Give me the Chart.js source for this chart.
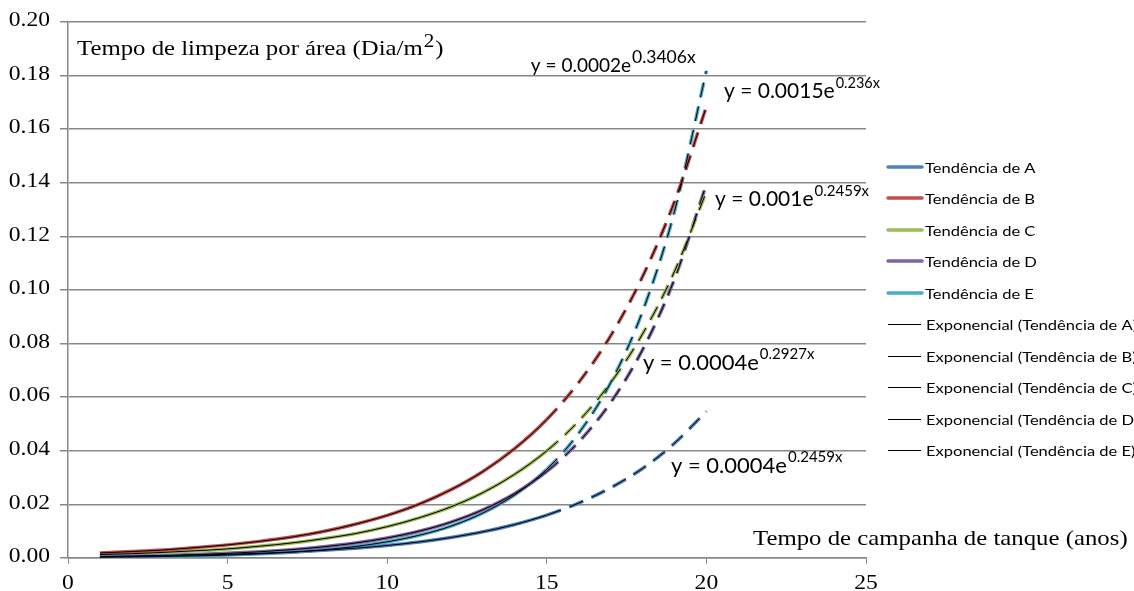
<!DOCTYPE html>
<html lang="pt">
<head>
  <meta charset="UTF-8">
  <title>Tempo de limpeza por área</title>
  <script src="https://cdn.jsdelivr.net/npm/chart.js"></script>
  <style>
    html, body { margin: 0; padding: 0; background: #fff; }
    #wrap { width: 1134px; height: 591px; }
  </style>
</head>
<body>
  <div id="wrap"><canvas id="grafico" width="1134" height="591"></canvas></div>

  <script>
    // dados (anos 1..20; a partir de 15 é previsão)
    const anos = [1, 2, 3, 4, 5, 6, 7, 8, 9, 10, 11, 12, 13, 14, 15, 16, 17, 18, 19, 20];
    const tendA = [0.0005, 0.00065, 0.00084, 0.00107, 0.00137, 0.00175, 0.00224, 0.00286, 0.00366, 0.00468, 0.00598, 0.00765, 0.00978, 0.0125, 0.016, 0.0205, 0.0262, 0.0334, 0.0428, 0.0547];
    const tendB = [0.0019, 0.0024, 0.003, 0.0039, 0.0049, 0.0062, 0.0078, 0.0099, 0.0126, 0.0159, 0.0201, 0.0255, 0.0323, 0.0409, 0.0517, 0.0655, 0.0829, 0.105, 0.133, 0.1684];
    const tendC = [0.0013, 0.0016, 0.0021, 0.0027, 0.0034, 0.0044, 0.0056, 0.0072, 0.0091, 0.0117, 0.015, 0.0191, 0.0244, 0.0313, 0.04, 0.0511, 0.0654, 0.0836, 0.1069, 0.1367];
    const tendD = [0.00054, 0.00072, 0.00096, 0.00129, 0.00173, 0.00231, 0.0031, 0.00416, 0.00557, 0.00747, 0.01, 0.0134, 0.018, 0.0241, 0.0323, 0.0433, 0.058, 0.0777, 0.1041, 0.1395];
    const tendE = [0.00028, 0.0004, 0.00056, 0.00078, 0.0011, 0.00154, 0.00217, 0.00305, 0.00429, 0.00603, 0.00848, 0.0119, 0.0168, 0.0236, 0.0331, 0.0466, 0.0654, 0.092, 0.1293, 0.1818];

    const nomes = ['Tendência de A', 'Tendência de B', 'Tendência de C', 'Tendência de D', 'Tendência de E'];
    const series = [tendA, tendB, tendC, tendD, tendE];
    const cores = ['#4F81BD', '#C0504D', '#9BBB59', '#8064A2', '#4BACC6'];

    // equações das linhas de tendência exponencial
    const eqBase = ['y = 0.0004e', 'y = 0.0015e', 'y = 0.001e', 'y = 0.0004e', 'y = 0.0002e'];
    const eqExpoente = ['0.2459x', '0.236x', '0.2459x', '0.2927x', '0.3406x'];

    const tituloY = 'Tempo de limpeza por área (Dia/m';
    const tituloX = 'Tempo de campanha de tanque (anos)';

    const inicioPrevisao = 15;
    const tracejado = ctx => ctx.p0.parsed.x >= inicioPrevisao ? [15, 9] : undefined;

    const pontos = vals => anos.map((a, i) => ({ x: a, y: vals[i] }));

    const datasets = [];
    series.forEach((vals, i) => {
      datasets.push({
        label: nomes[i],
        data: pontos(vals),
        borderColor: cores[i],
        backgroundColor: cores[i],
        borderWidth: 3.5,
        pointRadius: 0,
        order: 1,
        cubicInterpolationMode: 'monotone',
        segment: { borderDash: tracejado }
      });
    });
    series.forEach((vals, i) => {
      datasets.push({
        label: 'Exponencial (' + nomes[i] + ')',
        data: pontos(vals),
        borderColor: '#000',
        backgroundColor: '#000',
        borderWidth: 1,
        pointRadius: 0,
        order: 0,
        cubicInterpolationMode: 'monotone',
        segment: { borderDash: tracejado }
      });
    });

    const serif = '"Liberation Serif", "Times New Roman", serif';
    const sans = 'Lato, "Open Sans", sans-serif';
    const esticar = 1.18; // o texto do original está esticado na horizontal

    // posição das equações em coordenadas do gráfico (x, y da linha de base) e tamanho
    const eqLayout = [
      { x: 18.89, y: 0.0317, size: 22, sup: 15 },
      { x: 20.55, y: 0.1716, size: 21, sup: 14.5 },
      { x: 20.27, y: 0.1312, size: 21, sup: 15 },
      { x: 18.01, y: 0.0701, size: 22, sup: 15 },
      { x: 14.5,  y: 0.1813, size: 19, sup: 17.5 }
    ];

    function texto(ctx, txt, x, y, align) {
      ctx.save();
      ctx.translate(x, y);
      ctx.scale(esticar, 1);
      ctx.textAlign = align || 'left';
      ctx.fillText(txt, 0, 0);
      ctx.restore();
      return ctx.measureText(txt).width * esticar;
    }

    const extras = {
      id: 'extras',
      afterDraw(chart) {
        const { ctx, chartArea } = chart;
        const sx = chart.scales.x, sy = chart.scales.y;
        ctx.save();
        ctx.fillStyle = '#000';
        ctx.textBaseline = 'alphabetic';
        ctx.textAlign = 'left';

        // rótulos dos eixos (desenhados aqui para poder esticar o texto)
        ctx.font = '20px ' + serif;
        ctx.textBaseline = 'middle';
        sy.ticks.forEach((t, i) => {
          texto(ctx, t.value.toFixed(2), chartArea.left - 18, sy.getPixelForTick(i) - 1, 'right');
        });
        ctx.textBaseline = 'alphabetic';
        sx.ticks.forEach((t, i) => {
          texto(ctx, String(t.value), sx.getPixelForTick(i), 589, 'center');
        });

        // equações
        eqLayout.forEach((p, i) => {
          const px = sx.getPixelForValue(p.x);
          const py = sy.getPixelForValue(p.y);
          ctx.font = p.size + 'px ' + sans;
          ctx.fillText(eqBase[i], px, py);
          const w = ctx.measureText(eqBase[i]).width;
          ctx.font = p.sup + 'px ' + sans;
          ctx.fillText(eqExpoente[i], px + w + 1, py - p.size * 0.5);
        });

        // títulos dos eixos
        ctx.font = '21px ' + serif;
        const tx = chartArea.left + 9, ty = chartArea.top + 33;
        const w1 = texto(ctx, tituloY, tx, ty);
        ctx.font = '18px ' + serif;
        const w2 = texto(ctx, '2', tx + w1 + 1, ty - 8);
        ctx.font = '21px ' + serif;
        texto(ctx, ')', tx + w1 + w2 + 2, ty);
        texto(ctx, tituloX, 753, 545);

        // legenda
        ctx.font = '14px ' + sans;
        ctx.textBaseline = 'middle';
        chart.data.datasets.forEach((ds, i) => {
          const y = Math.round(167 + i * 31.45);
          const colorida = i < 5;
          ctx.strokeStyle = ds.borderColor;
          ctx.lineWidth = colorida ? 3.5 : 1;
          ctx.lineCap = colorida ? 'round' : 'butt';
          ctx.beginPath();
          ctx.moveTo(888, y + (colorida ? 0 : 0.5));
          ctx.lineTo(colorida ? 922 : 921, y + (colorida ? 0 : 0.5));
          ctx.stroke();
          ctx.fillStyle = '#000';
          texto(ctx, ds.label, colorida ? 925 : 926, y + 1);
        });
        ctx.restore();
      }
    };

    const grade = '#878787';

    new Chart(document.getElementById('grafico'), {
      type: 'line',
      data: { datasets: datasets },
      options: {
        responsive: false,
        animation: false,
        layout: { padding: { top: 22, right: 268, left: 0, bottom: 0 } },
        plugins: { legend: { display: false }, tooltip: { enabled: false } },
        scales: {
          x: {
            type: 'linear',
            min: 0,
            max: 25,
            ticks: { stepSize: 5, color: 'transparent', font: { family: serif, size: 20 }, padding: 2 },
            grid: { drawOnChartArea: false, drawTicks: true, tickLength: 6, color: grade },
            border: { color: grade, width: 1.5 },
            afterFit: s => { s.height = 33; }
          },
          y: {
            min: 0,
            max: 0.2,
            ticks: {
              stepSize: 0.02,
              color: 'transparent',
              font: { family: serif, size: 20 },
              padding: 10,
              callback: v => v.toFixed(2)
            },
            grid: { color: grade, lineWidth: 1.5, tickLength: 8 },
            border: { color: grade, width: 1.5 },
            afterFit: s => { s.width = 68; }
          }
        }
      },
      plugins: [extras]
    });
  </script>
</body>
</html>
